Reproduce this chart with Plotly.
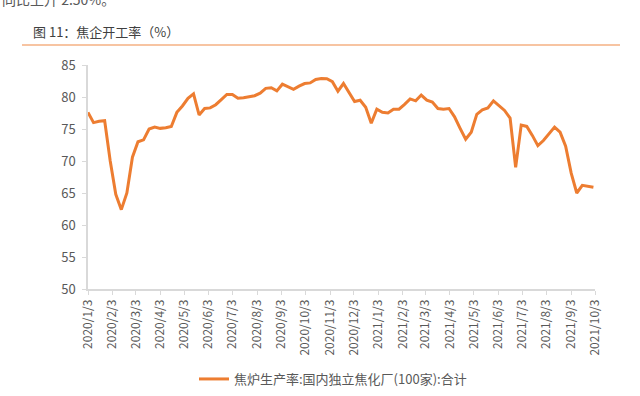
import pandas as pd
import plotly.graph_objects as go

# ---- data ----
start_date = "2020-01-03"
n_weeks = 92
dates = pd.date_range(start_date, periods=n_weeks, freq="7D")

values = [
    77.6, 76.0, 76.2, 76.3, 70.0, 64.8, 62.4, 65.0, 70.6, 73.0,
    73.3, 75.0, 75.3, 75.1, 75.2, 75.4, 77.6, 78.6, 79.8, 80.5,
    77.2, 78.2, 78.3, 78.8, 79.6, 80.4, 80.4, 79.8, 79.9, 80.05,
    80.2, 80.6, 81.35, 81.45, 80.95, 82.0, 81.6, 81.2, 81.7, 82.1,
    82.2, 82.75, 82.9, 82.85, 82.4, 80.9, 82.1, 80.7, 79.3, 79.5,
    78.4, 75.9, 78.1, 77.6, 77.5, 78.1, 78.1, 78.85, 79.7, 79.4,
    80.3, 79.5, 79.2, 78.2, 78.1, 78.2, 76.9, 75.1, 73.4, 74.5,
    77.3, 78.0, 78.3, 79.4, 78.7, 77.9, 76.7, 69.0, 75.6, 75.4,
    74.0, 72.4, 73.2, 74.3, 75.3, 74.5, 72.3, 68.1, 65.0, 66.2,
    66.05, 65.9,
]

tick_dates = [
    "2020-01-03", "2020-02-03", "2020-03-03", "2020-04-03", "2020-05-03",
    "2020-06-03", "2020-07-03", "2020-08-03", "2020-09-03", "2020-10-03",
    "2020-11-03", "2020-12-03", "2021-01-03", "2021-02-03", "2021-03-03",
    "2021-04-03", "2021-05-03", "2021-06-03", "2021-07-03", "2021-08-03",
    "2021-09-03", "2021-10-03",
]
tick_labels = [
    "2020/1/3", "2020/2/3", "2020/3/3", "2020/4/3", "2020/5/3",
    "2020/6/3", "2020/7/3", "2020/8/3", "2020/9/3", "2020/10/3",
    "2020/11/3", "2020/12/3", "2021/1/3", "2021/2/3", "2021/3/3",
    "2021/4/3", "2021/5/3", "2021/6/3", "2021/7/3", "2021/8/3",
    "2021/9/3", "2021/10/3",
]
y_ticks = [50, 55, 60, 65, 70, 75, 80, 85]

series_name = "焦炉生产率:国内独立焦化厂(100家):合计"
title_text = "图 11：焦企开工率（%）"
above_text = "同比上升 2.50%。"

# ---- layout geometry (pixels) ----
W, H = 640, 396
L, R, T, B = 88, 595, 65, 289


def px(x):
    return (x - L) / (R - L)


def py(y):
    return (B - y) / (B - T)


FONT = "Noto Sans CJK SC, Noto Sans, sans-serif"
GREY = "#595959"
AXIS = "#D9D9D9"

fig = go.Figure()
fig.add_trace(go.Scatter(
    x=dates, y=values, mode="lines", name=series_name,
    line=dict(color="#ED7D31", width=3),
))

fig.update_layout(
    template="none",
    width=W, height=H,
    margin=dict(l=L, r=W - R, t=T, b=H - B, pad=0, autoexpand=False),
    paper_bgcolor="white", plot_bgcolor="white",
    font=dict(family=FONT, size=12, color=GREY),
    showlegend=True,
    legend=dict(orientation="h", x=px(333), xanchor="center",
                y=py(379), yanchor="middle",
                font=dict(family=FONT, size=13, color=GREY),
                bgcolor="rgba(0,0,0,0)", borderwidth=0),
    xaxis=dict(
        type="date", range=[start_date, tick_dates[-1]], automargin=False,
        tickmode="array", tickvals=tick_dates, ticktext=tick_labels,
        tickangle=-90, showgrid=False, zeroline=False,
        showline=True, linecolor=AXIS, linewidth=1.5,
        ticks="outside", ticklen=4, tickcolor=AXIS, tickwidth=1,
        tickfont=dict(family=FONT, size=12, color=GREY),
    ),
    yaxis=dict(
        range=[50, 85], tickmode="array", tickvals=y_ticks, automargin=False,
        showgrid=False, zeroline=False,
        showline=True, linecolor=AXIS, linewidth=1.5,
        ticks="outside", ticklen=4, tickcolor=AXIS, tickwidth=1,
        ticklabelstandoff=4,
        tickfont=dict(family=FONT, size=13, color=GREY),
    ),
    annotations=[
        dict(text=title_text, xref="paper", yref="paper",
             x=px(31), y=py(32), xanchor="left", yanchor="middle",
             showarrow=False,
             font=dict(family=FONT, size=13, color="#404040")),
        dict(text=above_text, xref="paper", yref="paper",
             x=px(0), y=py(-1.5), xanchor="left", yanchor="middle",
             showarrow=False,
             font=dict(family=FONT, size=14, color=GREY)),
    ],
    shapes=[
        dict(type="line", xref="paper", yref="paper",
             x0=px(22), x1=px(620), y0=py(45), y1=py(45),
             line=dict(color="#F4B183", width=1.5)),
    ],
)

fig.write_html(
    "out.html",
    config={"displayModeBar": False},
    post_script="document.body.style.margin='0px';document.body.style.overflow='hidden';",
)
